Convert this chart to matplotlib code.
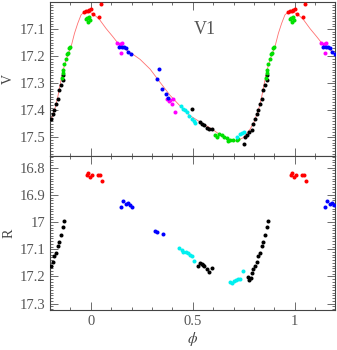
"""Phased V and R light curves of variable V1."""

import matplotlib

matplotlib.use("Agg")

import matplotlib.pyplot as plt
from matplotlib.ticker import MultipleLocator, FormatStrFormatter, FixedLocator
import numpy as np

plt.rcParams["font.family"] = ["Liberation Serif", "DejaVu Serif"]
plt.rcParams["mathtext.fontset"] = "stix"

# ---- V band, one cycle of phase per group (copies at +/-1 drawn later) ----
v_black_phase = [0.751, 0.756, 0.768, 0.777, 0.789, 0.797, 0.805, 0.814, 0.822,
                 0.830, 0.838, 0.846, 0.854, 0.863, 0.866,
                 0.495, 0.536, 0.544, 0.555, 0.569, 0.581, 0.593]
v_black_mag = [17.523, 17.499, 17.493, 17.481, 17.474, 17.449, 17.431, 17.412, 17.400,
               17.375, 17.357, 17.326, 17.307, 17.289, 17.270,
               17.397, 17.442, 17.449, 17.456, 17.464, 17.469, 17.470]

v_red_phase = [-0.033, -0.025, -0.015, -0.007, 0.0015, 0.010, 0.042, 0.049]
v_red_mag = [17.036, 17.033, 17.032, 17.030, 17.027, 17.044, 17.057, 17.006]

v_green_phase = [-0.023, -0.017, -0.007, -0.013, -0.003,
                 0.900, 0.895, 0.889, 0.884, 0.877, 0.871, 0.864, 0.863, 0.858,
                 0.609, 0.618, 0.630, 0.642, 0.653, 0.667, 0.675, 0.683, 0.699,
                 0.716, 0.724]
v_green_mag = [17.063, 17.059, 17.057, 17.075, 17.068,
               17.166, 17.170, 17.190, 17.193, 17.211, 17.230, 17.253, 17.263, 17.279,
               17.493, 17.499, 17.486, 17.493, 17.499, 17.501, 17.514, 17.509, 17.510,
               17.510, 17.505]

v_blue_phase = [0.140, 0.152, 0.163, 0.173, 0.184, 0.196,
                0.336, 0.324, 0.348, 0.368, 0.380]
v_blue_mag = [17.168, 17.168, 17.166, 17.170, 17.184, 17.193,
              17.249, 17.286, 17.323, 17.338, 17.356]

v_magenta_phase = [0.131, 0.144, 0.152, 0.147,
                   0.373, 0.384, 0.389, 0.397, 0.405, 0.413]
v_magenta_mag = [17.151, 17.156, 17.151, 17.188,
                 17.358, 17.365, 17.363, 17.378, 17.358, 17.406]

v_cyan_phase = [0.443, 0.454, 0.461, 0.471, 0.483, 0.495, 0.506, 0.511,
                0.716, 0.732, 0.740, 0.751]
v_cyan_mag = [17.385, 17.394, 17.400, 17.407, 17.422, 17.431, 17.441, 17.447,
              17.499, 17.486, 17.484, 17.481]

# fitted curve, one cycle
fit_phase = [-0.200, -0.178, -0.162, -0.146, -0.129, -0.113, -0.097, -0.080,
             -0.064, -0.048, -0.031, -0.015, 0.001, 0.018, 0.042, 0.075,
             0.108, 0.132, 0.160, 0.193, 0.242, 0.291, 0.340, 0.389, 0.438,
             0.487, 0.536, 0.585, 0.634, 0.683, 0.716, 0.748, 0.781, 0.800]
fit_mag = [17.445, 17.400, 17.351, 17.289, 17.233, 17.196, 17.166, 17.116,
           17.079, 17.048, 17.036, 17.033, 17.040, 17.048, 17.064, 17.098,
           17.128, 17.151, 17.170, 17.186, 17.212, 17.248, 17.297, 17.345, 17.384,
           17.420, 17.443, 17.465, 17.490, 17.508, 17.514, 17.501, 17.470, 17.445]

# ---- R band ----
r_black_phase = [0.770, 0.777, 0.784, 0.789, 0.797, 0.805, 0.814, 0.822, 0.830,
                 0.838, 0.846, 0.854, 0.863, 0.871,
                 0.527, 0.536, 0.544, 0.552, 0.557, 0.569, 0.581, 0.593]
r_black_mag = [17.203, 17.213, 17.207, 17.188, 17.173, 17.160, 17.146, 17.125, 17.113,
               17.088, 17.072, 17.047, 17.019, 16.995,
               17.161, 17.151, 17.154, 17.158, 17.160, 17.174, 17.182, 17.168]

r_red_phase = [-0.020, -0.012, -0.003, 0.005, 0.037, 0.046, 0.054]
r_red_mag = [16.827, 16.821, 16.835, 16.826, 16.826, 16.828, 16.849]

r_blue_phase = [0.149, 0.160, 0.172, 0.181, 0.193, 0.204, 0.315, 0.327, 0.353]
r_blue_mag = [16.943, 16.924, 16.935, 16.929, 16.937, 16.945, 17.033, 17.035, 17.044]

r_cyan_phase = [0.434, 0.446, 0.454, 0.466, 0.475, 0.487, 0.495, 0.508,
                0.683, 0.694, 0.702, 0.712, 0.721, 0.732, 0.745]
r_cyan_mag = [17.096, 17.103, 17.109, 17.111, 17.115, 17.122, 17.125, 17.143,
              17.219, 17.223, 17.217, 17.213, 17.210, 17.210, 17.179]

XMIN, XMAX = -0.2, 1.2


def wrap(phase, mag):
    p = np.asarray(phase)
    m = np.asarray(mag)
    ps = np.concatenate([p - 1, p, p + 1])
    ms = np.concatenate([m, m, m])
    keep = (ps >= XMIN) & (ps <= XMAX)
    return ps[keep], ms[keep]


def dots(ax, phase, mag, color):
    x, y = wrap(phase, mag)
    ax.plot(x, y, "o", color=color, ms=2.9, mew=0, zorder=3)


def style(ax, ymin, ymax, yticks):
    ax.set_xlim(XMIN, XMAX)
    ax.set_ylim(ymax, ymin)
    ax.xaxis.set_major_locator(MultipleLocator(0.5))
    ax.xaxis.set_minor_locator(MultipleLocator(0.1))
    ax.yaxis.set_major_locator(FixedLocator(yticks))
    ax.yaxis.set_minor_locator(MultipleLocator(0.01))
    ax.yaxis.set_major_formatter(FormatStrFormatter("%g"))
    ax.xaxis.set_major_formatter(FormatStrFormatter("%g"))
    ax.tick_params(which="both", direction="in", top=True, right=True,
                   colors="#555555", labelsize=10.5, width=0.6)
    ax.tick_params(which="major", length=5.5)
    ax.tick_params(which="minor", length=2.5)
    for s in ax.spines.values():
        s.set_color("#444444")
        s.set_linewidth(0.8)


fig = plt.figure(figsize=(3.37, 3.5), dpi=100)
ax_v = fig.add_axes([0.1484, 0.5557, 0.847, 0.4386])
ax_r = fig.add_axes([0.1484, 0.113, 0.847, 0.4427])

# top: V
fx, fy = fit_phase + [p + 1 for p in fit_phase[1:]], fit_mag + fit_mag[1:]
fx = np.array(fx)
fy = np.array(fy)
m = fx <= XMAX + 0.01
ax_v.plot(fx[m], fy[m], color="#ff7070", lw=0.6, zorder=2)
dots(ax_v, v_black_phase, v_black_mag, "black")
dots(ax_v, v_green_phase, v_green_mag, "#00e000")
dots(ax_v, v_cyan_phase, v_cyan_mag, "#00f0f0")
dots(ax_v, v_magenta_phase, v_magenta_mag, "#ff00ff")
dots(ax_v, v_blue_phase, v_blue_mag, "#0000ff")
dots(ax_v, v_red_phase, v_red_mag, "#ff0000")
style(ax_v, 17.0, 17.567, [17.1, 17.2, 17.3, 17.4, 17.5])
ax_v.tick_params(labelbottom=False)
ax_v.set_ylabel("V", color="#444444", fontsize=10)
ax_v.yaxis.set_label_coords(-0.122, 0.5)
ax_v.text(0.56, 17.1, "V1", fontsize=13, color="#555555", ha="center", va="center")

# bottom: R
dots(ax_r, r_black_phase, r_black_mag, "black")
dots(ax_r, r_cyan_phase, r_cyan_mag, "#00f0f0")
dots(ax_r, r_blue_phase, r_blue_mag, "#0000ff")
dots(ax_r, r_red_phase, r_red_mag, "#ff0000")
style(ax_r, 16.755, 17.325, [16.8, 16.9, 17.0, 17.1, 17.2, 17.3])
ax_r.set_ylabel("R", color="#444444", fontsize=10)
ax_r.yaxis.set_label_coords(-0.122, 0.5)
ax_r.set_xlabel(r"$\phi$", color="#444444", fontsize=11, labelpad=1)

fig.savefig("out.png", dpi=100)
plt.close(fig)
